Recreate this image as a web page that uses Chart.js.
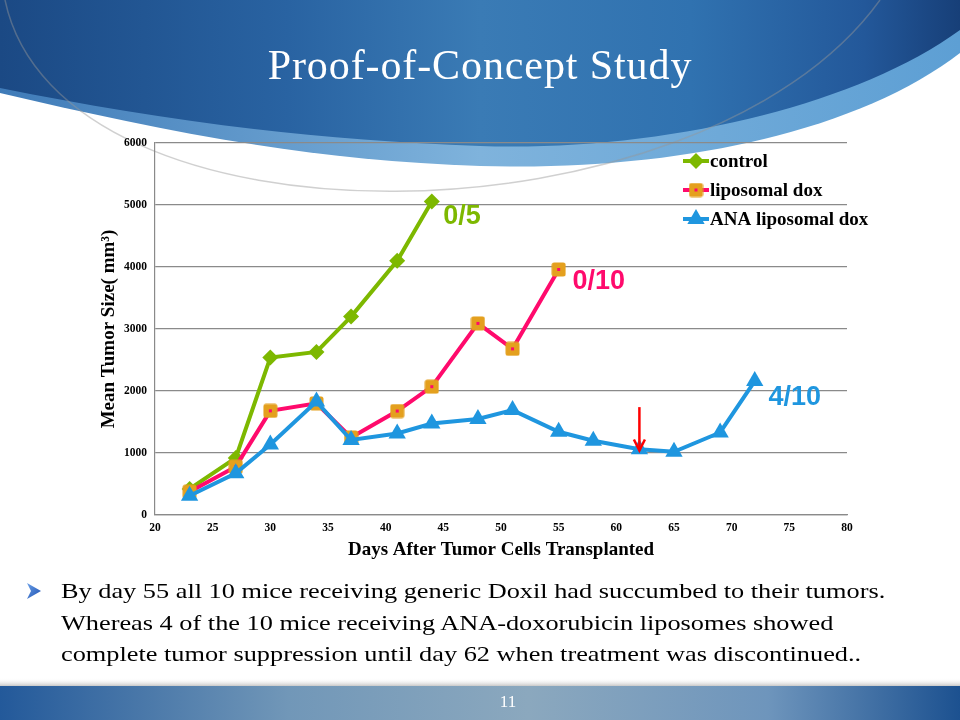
<!DOCTYPE html>
<html><head><meta charset="utf-8">
<script src="https://cdn.jsdelivr.net/npm/chart.js@4"></script>
<style>
html,body{margin:0;padding:0;width:960px;height:720px;overflow:hidden;background:#fff;}
#bg{position:absolute;left:0;top:0;}
#c{position:absolute;left:0;top:0;}
#title{position:absolute;left:0;top:44px;width:960px;text-align:center;color:#fff;font-family:'Liberation Serif',serif;font-size:42px;letter-spacing:0.9px;line-height:43px;white-space:nowrap;}
#bul{position:absolute;left:61px;top:575px;font-family:'Liberation Serif',serif;font-size:22px;line-height:31.5px;color:#000;white-space:nowrap;transform:scaleX(1.196);transform-origin:0 0;}
#pg{position:absolute;left:468px;width:80px;top:692px;text-align:center;color:#fff;font-family:'Liberation Serif',serif;font-size:17px;line-height:20px;}
</style></head>
<body>
<svg id="bg" width="960" height="720" viewBox="0 0 960 720">
  <defs>
    <linearGradient id="dark" x1="0" y1="0" x2="1" y2="0">
      <stop offset="0" stop-color="#1b4984"/>
      <stop offset="0.3" stop-color="#2963a2"/>
      <stop offset="0.5" stop-color="#3a7bb5"/>
      <stop offset="0.72" stop-color="#3072b0"/>
      <stop offset="0.9" stop-color="#23589a"/>
      <stop offset="1" stop-color="#173f78"/>
    </linearGradient>
    <linearGradient id="light" x1="0" y1="0" x2="1" y2="0">
      <stop offset="0" stop-color="#3f7bb8"/>
      <stop offset="0.5" stop-color="#7fb3dc"/>
      <stop offset="1" stop-color="#5d9fd4"/>
    </linearGradient>
    <linearGradient id="foot" x1="0" y1="0" x2="1" y2="0">
      <stop offset="0" stop-color="#23599a"/>
      <stop offset="0.3" stop-color="#7197b8"/>
      <stop offset="0.55" stop-color="#8ba8be"/>
      <stop offset="0.8" stop-color="#6e95bc"/>
      <stop offset="1" stop-color="#1c5190"/>
    </linearGradient>
    <linearGradient id="shadow" x1="0" y1="0" x2="0" y2="1">
      <stop offset="0" stop-color="#ffffff" stop-opacity="0"/>
      <stop offset="1" stop-color="#c8c8c8"/>
    </linearGradient>
    <linearGradient id="arrowg" x1="0" y1="0" x2="1" y2="1">
      <stop offset="0" stop-color="#6aa0e8"/>
      <stop offset="1" stop-color="#1d4fb0"/>
    </linearGradient>
  </defs>
  <path d="M0,0 L960,0 L960,53 C860,130 680,172 480,166 C300,160 150,128 0,93 Z" fill="url(#light)"/>
  <path d="M0,0 L960,0 L960,30 C850,110 650,152 480,146 C300,140 150,118 0,88 Z" fill="url(#dark)"/>
  <path d="M5,0 C60,260 700,250 880,0" fill="none" stroke="rgba(150,150,150,0.45)" stroke-width="1.5"/>
  <rect x="0" y="678" width="960" height="8" fill="url(#shadow)"/>
  <rect x="0" y="686" width="960" height="34" fill="url(#foot)"/>
  <polygon points="27,583 41,591 27,599 31,591" fill="url(#arrowg)"/>
</svg>
<canvas id="c" width="960" height="720"></canvas>
<div id="title">Proof-of-Concept Study</div>
<div id="bul">By day 55 all 10 mice receiving generic Doxil had succumbed to their tumors.<br>Whereas 4 of the 10 mice receiving ANA-doxorubicin liposomes showed<br>complete tumor suppression until day 62 when treatment was discontinued..</div>
<div id="pg">11</div>
<script>
// ---- data ----
const seriesNames = ['control', 'liposomal dox', 'ANA liposomal dox'];
const controlDays = [23, 27, 30, 34, 37, 41, 44];
const controlSize = [420, 920, 2540, 2630, 3200, 4100, 5055];
const liposomalDays = [23, 27, 30, 34, 37, 41, 44, 48, 51, 55];
const liposomalSize = [376, 780, 1680, 1800, 1250, 1677, 2070, 3090, 2680, 3960];
const anaDays = [23, 27, 30, 34, 37, 41, 44, 48, 51, 55, 58, 62, 65, 69, 72];
const anaSize = [310, 672, 1137, 1830, 1210, 1315, 1476, 1548, 1692, 1342, 1197, 1062, 1019, 1331, 2160];
const xTickMin = 20, xTickMax = 80, xTickStep = 5;
const yTickMin = 0, yTickMax = 6000, yTickStep = 1000;
const survivalLabels = ['0/5', '0/10', '4/10'];
const survivalDay = [45, 56.2, 73.2];
const survivalSize = [4820, 3760, 1890];
const arrowDay = 62, arrowFromSize = 1740, arrowToSize = 1040;

const GREEN = '#7db800', PINK = '#ff0a6c', ORANGE = '#e4a01e', BLUE = '#1f96df';
const annColors = [GREEN, PINK, BLUE];

function makeSquare(){
  const c = document.createElement('canvas'); c.width = 15; c.height = 15;
  const g = c.getContext('2d');
  g.fillStyle = ORANGE;
  g.beginPath(); g.roundRect(0.5, 0.5, 14, 14, 2.5); g.fill();
  g.fillStyle = PINK; g.fillRect(6, 6, 3, 3);
  return c;
}
const squareImg = makeSquare();
const pts = (xs, ys) => xs.map((d, i) => ({x: d, y: ys[i]}));

const serifBold = (s) => ({family: "'Liberation Serif', serif", size: s, weight: 'bold'});

function drawMarker(ctx, ds, x, y){
  const r = ds.pointRadius;
  ctx.fillStyle = ds.pointBackgroundColor;
  if (ds.pointStyle === 'rectRot'){
    ctx.beginPath(); ctx.moveTo(x, y - r); ctx.lineTo(x + r, y); ctx.lineTo(x, y + r); ctx.lineTo(x - r, y); ctx.closePath(); ctx.fill();
  } else if (ds.pointStyle === 'triangle'){
    ctx.beginPath(); ctx.moveTo(x, y - r); ctx.lineTo(x + 0.866 * r, y + 0.5 * r); ctx.lineTo(x - 0.866 * r, y + 0.5 * r); ctx.closePath(); ctx.fill();
  } else {
    const im = ds.pointStyle; ctx.drawImage(im, x - im.width / 2, y - im.height / 2);
  }
}

const overlay = {
  id: 'overlay',
  afterDatasetsDraw(chart){
    const {ctx, chartArea, scales: {x, y}} = chart;
    ctx.save();
    ctx.font = "bold 27px 'Liberation Sans', sans-serif";
    ctx.textBaseline = 'middle'; ctx.textAlign = 'left';
    survivalLabels.forEach((t, i) => {
      ctx.fillStyle = annColors[i];
      ctx.fillText(t, x.getPixelForValue(survivalDay[i]), y.getPixelForValue(survivalSize[i]));
    });
    const ax = x.getPixelForValue(arrowDay), y0 = y.getPixelForValue(arrowFromSize), y1 = y.getPixelForValue(arrowToSize);
    ctx.strokeStyle = '#ff0000'; ctx.lineWidth = 2.5; ctx.lineCap = 'butt';
    ctx.beginPath(); ctx.moveTo(ax, y0); ctx.lineTo(ax, y1); ctx.stroke();
    ctx.beginPath(); ctx.moveTo(ax - 5.5, y1 - 11); ctx.lineTo(ax, y1); ctx.lineTo(ax + 5.5, y1 - 11); ctx.stroke();
    const lx = chartArea.right - 164, ly0 = chartArea.top + 18;
    ctx.font = "bold 19px 'Liberation Serif', serif";
    chart.data.datasets.forEach((ds, i) => {
      const ly = ly0 + i * 29;
      ctx.strokeStyle = ds.borderColor; ctx.lineWidth = 4;
      ctx.beginPath(); ctx.moveTo(lx, ly); ctx.lineTo(lx + 26, ly); ctx.stroke();
      drawMarker(ctx, ds, lx + 13, ly);
      ctx.fillStyle = '#000'; ctx.textBaseline = 'middle';
      ctx.fillText(ds.label, lx + 27, ly + 1);
    });
    ctx.restore();
  }
};

new Chart(document.getElementById('c'), {
  type: 'line',
  data: {
    datasets: [
      {label: seriesNames[0], data: pts(controlDays, controlSize), borderColor: GREEN, backgroundColor: GREEN,
       pointStyle: 'rectRot', pointRadius: 8, pointBackgroundColor: GREEN, pointBorderColor: GREEN, pointBorderWidth: 0,
       borderWidth: 4, tension: 0, order: 3},
      {label: seriesNames[1], data: pts(liposomalDays, liposomalSize), borderColor: PINK, backgroundColor: PINK,
       pointStyle: squareImg, pointRadius: 7, pointBackgroundColor: ORANGE, pointBorderWidth: 0,
       borderWidth: 4, tension: 0, order: 2},
      {label: seriesNames[2], data: pts(anaDays, anaSize), borderColor: BLUE, backgroundColor: BLUE,
       pointStyle: 'triangle', pointRadius: 10, pointBackgroundColor: BLUE, pointBorderColor: BLUE, pointBorderWidth: 0,
       borderWidth: 4, tension: 0, order: 1}
    ]
  },
  options: {
    responsive: false, animation: false, devicePixelRatio: 1,
    layout: {padding: {left: 95, right: 113, top: 143, bottom: 159}},
    plugins: {legend: {display: false}, tooltip: {enabled: false}},
    scales: {
      x: {type: 'linear', min: xTickMin, max: xTickMax,
          ticks: {stepSize: xTickStep, font: serifBold(11.5), color: '#000', padding: 6, callback: v => String(v)},
          grid: {display: false, drawTicks: false}, border: {display: true, color: '#8a8a8a', width: 1.2},
          title: {display: true, text: 'Days After Tumor Cells Transplanted', font: serifBold(19), color: '#000', padding: 0},
          afterFit(s){ s.height = 46; }},
      y: {type: 'linear', min: yTickMin, max: yTickMax,
          ticks: {stepSize: yTickStep, font: serifBold(11.5), color: '#000', padding: 8, callback: v => String(v)},
          grid: {color: '#8a8a8a', lineWidth: 1.2, drawTicks: false}, border: {display: true, color: '#8a8a8a', width: 1.2},
          title: {display: true, text: 'Mean Tumor Size( mm³)', font: serifBold(19), color: '#000', padding: {top: 3, bottom: 0}},
          afterFit(s){ s.width = 60; }}
    }
  },
  plugins: [overlay]
});
</script>
</body></html>
